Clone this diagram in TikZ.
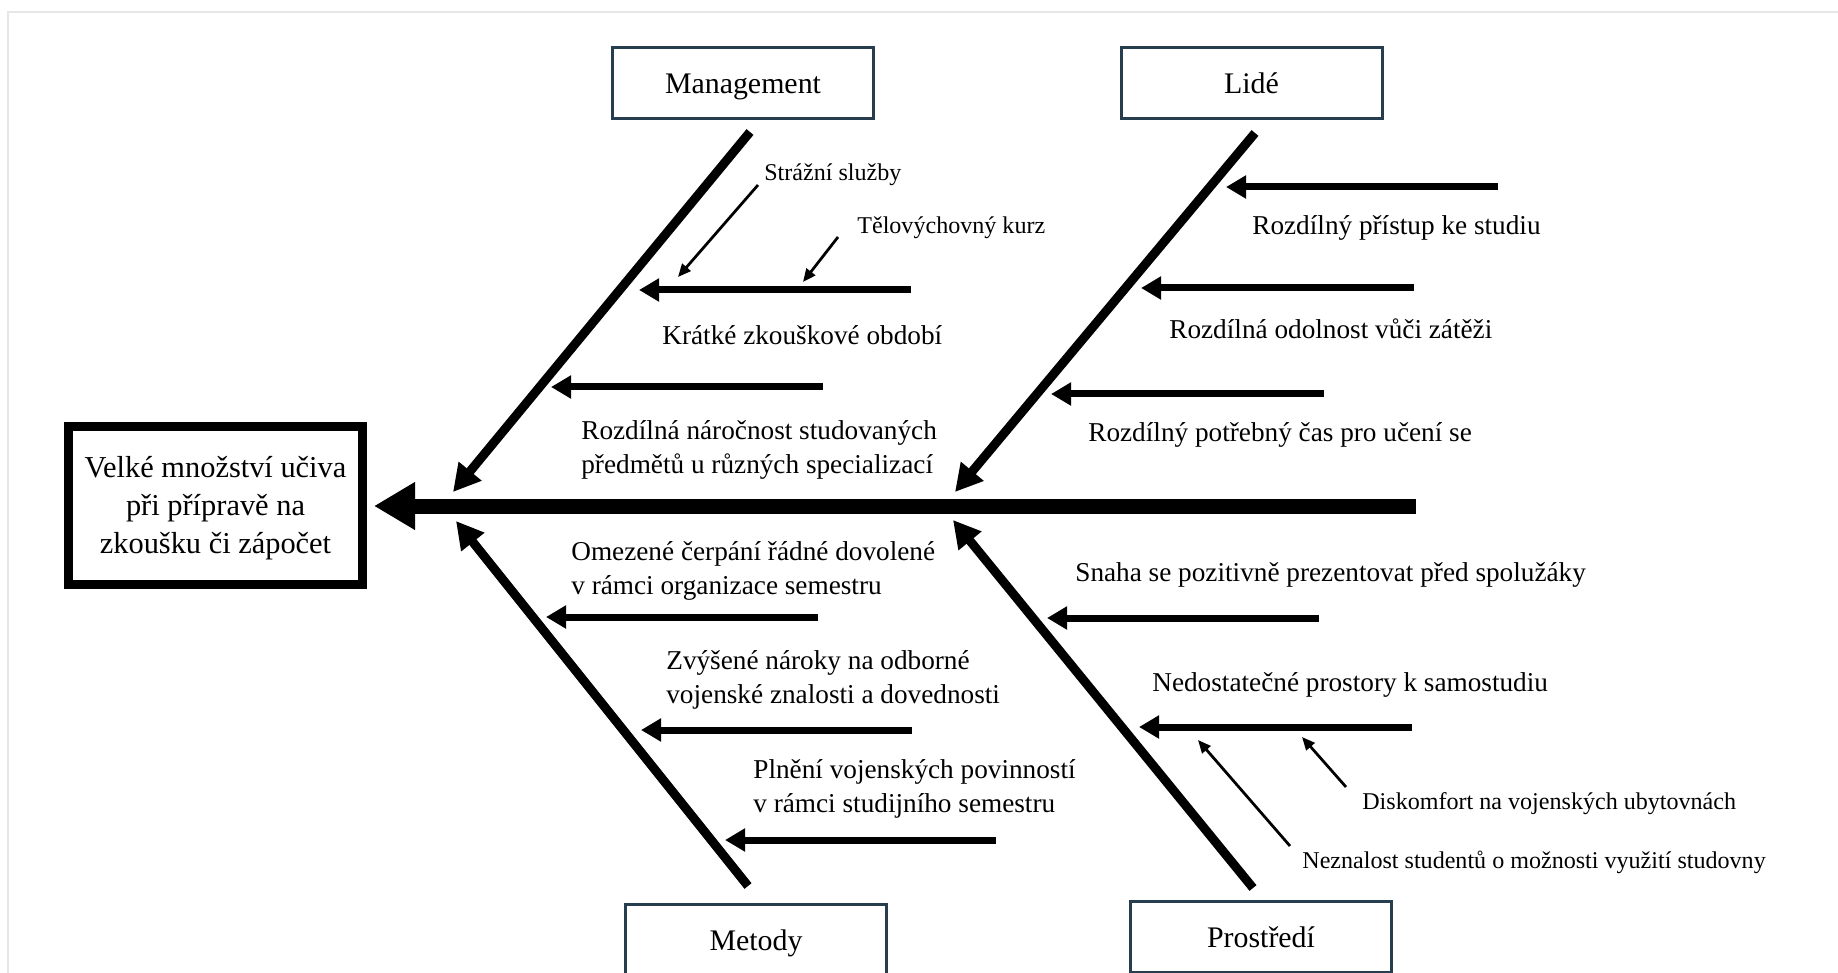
\documentclass[tikz,border=0pt]{standalone}
\usepackage{fontspec}
\setmainfont{Liberation Serif}
\usepackage{tikz}
\usetikzlibrary{arrows.meta, positioning, calc}
\definecolor{boxline}{RGB}{38, 62, 78}
\definecolor{framegray}{RGB}{230, 230, 230}
\tikzset{
  effect/.style={
    draw=black, line width=1.8mm, fill=white,
    minimum width=58.8mm, minimum height=31.6mm, inner sep=0pt
  },
  effecttext/.style={
    inner sep=0pt, font=\fontsize{17.3}{21.6}\selectfont, align=center
  },
  category/.style={
    draw=boxline, line width=0.6mm, fill=white,
    minimum width=52.2mm, minimum height=14.2mm, inner sep=0pt,
    text height=13.3pt, text depth=1.8pt,
    font=\fontsize{17}{20}\selectfont, align=center
  },
  spine/.style={-{Triangle[length=8.2mm, width=9mm]}, line width=3mm},
  bone/.style={-{Triangle[length=5.4mm, width=5.6mm]}, line width=1.8mm},
  cause/.style={-{Triangle[length=4mm, width=4.4mm]}, line width=1.4mm},
  subcause/.style={-{Triangle[length=2.6mm, width=2.2mm]}, line width=0.55mm},
  causelabel/.style={anchor=west, inner sep=0pt, align=left,
    font=\fontsize{15.5}{19.4}\selectfont},
  sublabel/.style={anchor=west, inner sep=0pt,
    font=\fontsize{13.7}{16}\selectfont},
}

\begin{document}
\begin{tikzpicture}[x=0.2mm, y=-0.2mm]

  \useasboundingbox (0,0) rectangle (1838,973);
  \draw[framegray, line width=0.4mm] (8,1000) -- (8,12) -- (1850,12);

  % ============ HEAD AND CATEGORIES ============
  \node[effect] (head) at (215.5, 505.5) {};
  \node[effecttext] (head_text) at ([yshift=-0.6mm]head.center)
    {Velké množství učiva\\při přípravě na\\zkoušku či zápočet};

  \node[category] (mgmt)      at (743, 83)    {Management};
  \node[category] (lide)      at (1251.5, 83) {Lidé};
  \node[category] (metody)    at (756, 940)   {Metody};
  \node[category] (prostredi) at (1261, 937)  {Prostředí};

  % ============ SPINE AND BONES ============
  \coordinate (spine_tail) at (1416, 506);
  \coordinate (spine_tip)  at (374, 506);
  \draw[spine] (spine_tail) -- (spine_tip);

  \coordinate (mgmt_end)      at (750, 132);  \coordinate (mgmt_tip)      at (453, 492);
  \coordinate (lide_end)      at (1255, 133); \coordinate (lide_tip)      at (955, 492);
  \coordinate (metody_end)    at (748, 886);  \coordinate (metody_tip)    at (456, 521);
  \coordinate (prostredi_end) at (1253, 888); \coordinate (prostredi_tip) at (953, 520);

  \foreach \a/\b in {mgmt_end/mgmt_tip, lide_end/lide_tip,
                     metody_end/metody_tip, prostredi_end/prostredi_tip} {
    \draw[bone] (\a) -- (\b);
  }

  % ============ CAUSES ============
  % Management
  \coordinate (m1_tail) at (911, 290);  \coordinate (m1_tip) at (639, 290);
  \coordinate (m2_tail) at (823, 387);  \coordinate (m2_tip) at (551, 387);
  % Lide
  \coordinate (l1_tail) at (1498, 187); \coordinate (l1_tip) at (1226, 187);
  \coordinate (l2_tail) at (1414, 288); \coordinate (l2_tip) at (1141, 288);
  \coordinate (l3_tail) at (1324, 394); \coordinate (l3_tip) at (1051, 394);
  % Metody
  \coordinate (t1_tail) at (818, 617);  \coordinate (t1_tip) at (546, 617);
  \coordinate (t2_tail) at (912, 730);  \coordinate (t2_tip) at (641, 730);
  \coordinate (t3_tail) at (996, 840);  \coordinate (t3_tip) at (725, 840);
  % Prostredi
  \coordinate (p1_tail) at (1319, 618); \coordinate (p1_tip) at (1047, 618);
  \coordinate (p2_tail) at (1412, 727); \coordinate (p2_tip) at (1139, 727);

  \foreach \c in {m1, m2, l1, l2, l3, t1, t2, t3, p1, p2} {
    \draw[cause] (\c_tail) -- (\c_tip);
  }

  % sub-causes (thin arrows)
  \coordinate (s1_tail) at (758, 185);  \coordinate (s1_tip) at (678, 277);
  \coordinate (s2_tail) at (838, 237);  \coordinate (s2_tip) at (803, 282);
  \coordinate (s3_tail) at (1346, 787); \coordinate (s3_tip) at (1302, 737);
  \coordinate (s4_tail) at (1290, 846); \coordinate (s4_tip) at (1198, 740);

  \foreach \c in {s1, s2, s3, s4} {
    \draw[subcause] (\c_tail) -- (\c_tip);
  }

  % ============ LABELS ============
  \node[sublabel]   (lab_s1) at (764, 175)  {Strážní služby};
  \node[sublabel]   (lab_s2) at (857, 228)  {Tělovýchovný kurz};
  \node[causelabel] (lab_m1) at (662, 335)  {Krátké zkouškové období};
  \node[causelabel] (lab_m2) at (581, 450)
    {Rozdílná náročnost studovaných\\předmětů u různých specializací};

  \node[causelabel] (lab_l1) at (1252, 228) {Rozdílný přístup ke studiu};
  \node[causelabel] (lab_l2) at (1169, 329) {Rozdílná odolnost vůči zátěži};
  \node[causelabel] (lab_l3) at (1088, 435) {Rozdílný potřebný čas pro učení se};

  \node[causelabel] (lab_t1) at (571, 571)
    {Omezené čerpání řádné dovolené\\v rámci organizace semestru};
  \node[causelabel] (lab_t2) at (666, 680)
    {Zvýšené nároky na odborné\\vojenské znalosti a dovednosti};
  \node[causelabel] (lab_t3) at (753, 789)
    {Plnění vojenských povinností\\v rámci studijního semestru};

  \node[causelabel] (lab_p1) at (1075, 575) {Snaha se pozitivně prezentovat před spolužáky};
  \node[causelabel] (lab_p2) at (1152, 685) {Nedostatečné prostory k samostudiu};
  \node[sublabel]   (lab_s3) at (1362, 804) {Diskomfort na vojenských ubytovnách};
  \node[sublabel]   (lab_s4) at (1302, 862) {Neznalost studentů o možnosti využití studovny};

\end{tikzpicture}
\end{document}
